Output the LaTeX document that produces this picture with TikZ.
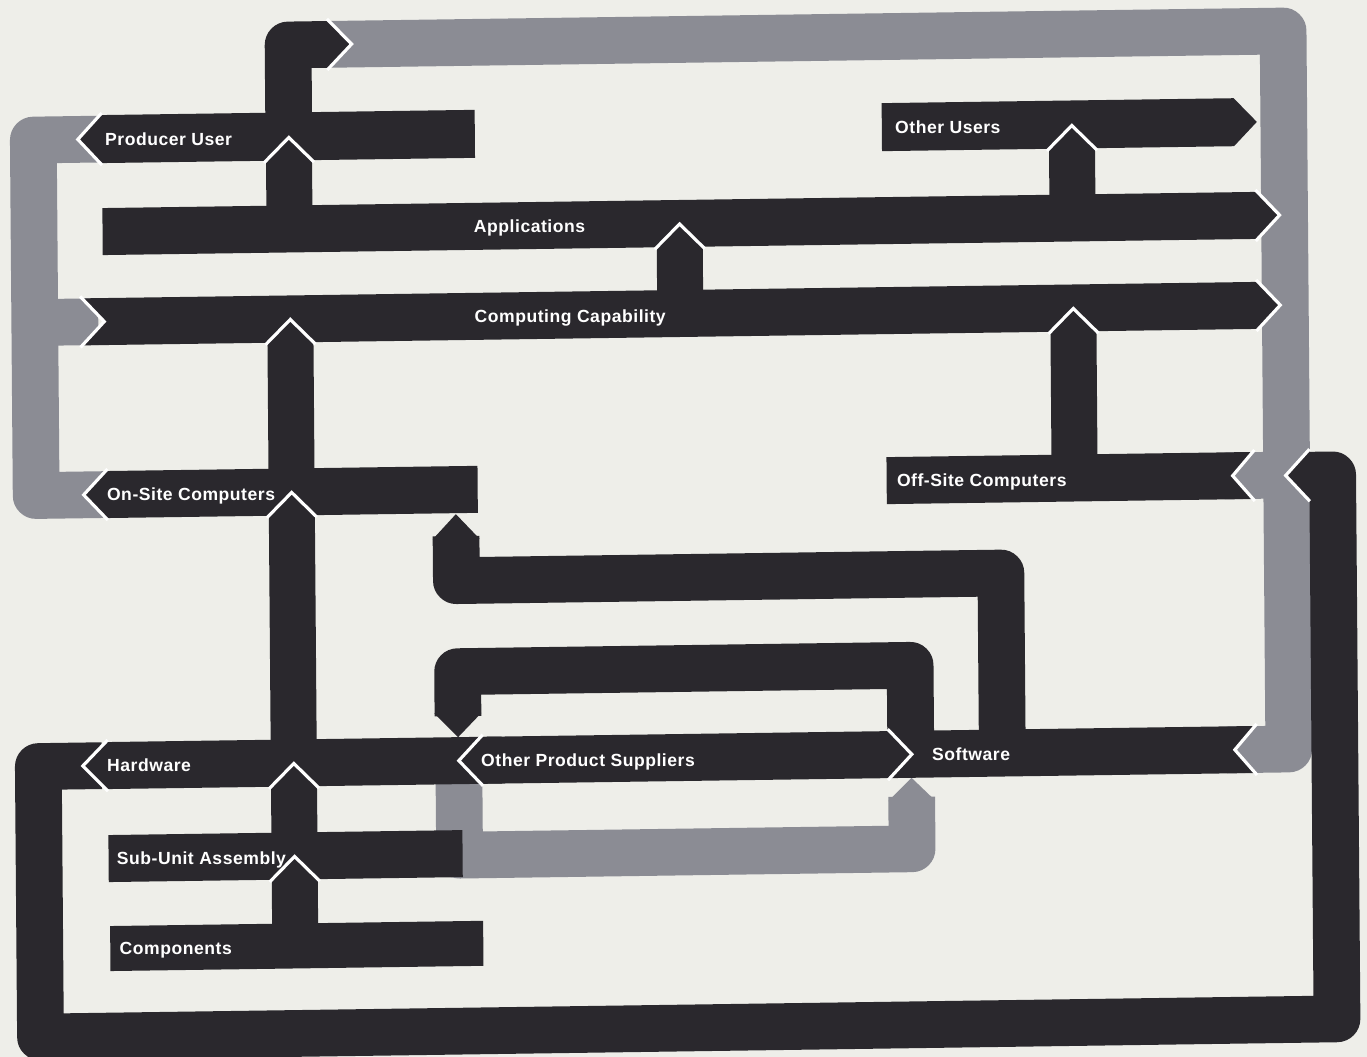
\documentclass[tikz,border=0pt]{standalone}
\usepackage{fontspec}
\newfontfamily\labfont{Liberation Sans}[LetterSpace=3]
\definecolor{ink}{HTML}{2A282D}
\definecolor{slate}{HTML}{8B8C94}
\definecolor{paper}{HTML}{EEEEE9}
\tikzset{
  band/.style={line width=26.6pt, line join=round, line cap=butt},
  gband/.style={band, draw=slate},
  kband/.style={band, draw=ink},
  edge/.style={draw=white, line width=1.8pt, line join=miter},
  lab/.style={anchor=base west, inner sep=0pt, text=white,
              font=\labfont\bfseries\fontsize{10}{12}\selectfont},
}
\begin{document}
\begin{tikzpicture}[x=0.02cm,y=-0.02cm]
\fill[paper] (0,0) rectangle (1367,1057);
\useasboundingbox (0,0) rectangle (1367,1057);
\begin{scope}[cm={1,0.014,-0.008,1,(-0.0845cm,-0.191cm)}]
% ---------- gray flows ----------
\draw[gband] (330,39.5) -- (1287,39.5) -- (1287,757.5) -- (1225,757.5);
\draw[gband] (1287,483.5) -- (1225,483.5);
\draw[gband] (110,131) -- (36.5,131) -- (36.5,486.5) -- (110,486.5);
\draw[gband] (36.5,313.5) -- (100,313.5);
\draw[gband] (457,770) -- (457,852) -- (909.5,852) -- (909.5,800);
\fill[slate] (886,804) -- (909.5,781) -- (933,804) -- cycle;
% ---------- black loops and connectors ----------
\draw[kband] (100,757.5) -- (36.5,757.5) -- (36.5,1028) -- (1333,1028) -- (1333,484) -- (1308,484);
\fill[ink] (1309,460.5) -- (1286,484) -- (1309,507.5) -- cycle;
\draw[kband] (456,533) -- (456,577.5) -- (1000.5,577.5) -- (1000.5,745);
\fill[ink] (432.5,536) -- (456,511) -- (479.5,536) -- cycle;
\draw[kband] (909,745) -- (909,668.5) -- (456.5,668.5) -- (456.5,713);
\fill[ink] (433,710) -- (456.5,734) -- (480,710) -- cycle;
\draw[kband] (292,110) -- (292,39.5) -- (333,39.5);
\fill[ink] (332,16) -- (355.5,39.5) -- (332,63) -- cycle;
% ---------- bars ----------
\fill[ink] (104,107) -- (478,107) -- (478,155) -- (104,155) -- (81,131) -- cycle;
\fill[ink] (885,106) -- (1237,106) -- (1260,130) -- (1237,154) -- (885,154) -- cycle;
\fill[ink] (105,200) -- (1259,200) -- (1282,223.5) -- (1259,247) -- (105,247) -- cycle;
\fill[ink] (83,290) -- (1259,290) -- (1282,313.5) -- (1259,337) -- (83,337) -- (106,313.5) -- cycle;
\fill[ink] (107,463) -- (478,463) -- (478,510) -- (107,510) -- (84,486.5) -- cycle;
\fill[ink] (887,460) -- (1254,460) -- (1233,483.5) -- (1254,507) -- (887,507) -- cycle;
\fill[ink] (105,734) -- (500,734) -- (500,781) -- (105,781) -- (81,757.5) -- cycle;
\fill[ink] (480,734) -- (887,734) -- (910,757.5) -- (887,781) -- (480,781) -- (457,757.5) -- cycle;
\fill[ink] (887,734) -- (1254,734) -- (1233,757.5) -- (1254,781) -- (887,781) -- (910,757.5) -- cycle;
\fill[ink] (106,827) rectangle (460,874);
\fill[ink] (107,918) rectangle (480,963);
% ---------- upward stems ----------
\fill[ink] (269,204) -- (269,155) -- (292,132) -- (315,155) -- (315,204) -- cycle;
\fill[ink] (659,294) -- (659,247) -- (682,224) -- (705,247) -- (705,294) -- cycle;
\fill[ink] (269,467) -- (269,337) -- (292,314) -- (315,337) -- (315,467) -- cycle;
\fill[ink] (269,738) -- (269,510) -- (292,487) -- (315,510) -- (315,738) -- cycle;
\fill[ink] (269,831) -- (269,781) -- (292,758) -- (315,781) -- (315,831) -- cycle;
\fill[ink] (269,922) -- (269,874) -- (292,851) -- (315,874) -- (315,922) -- cycle;
\fill[ink] (1052,204) -- (1052,154) -- (1075,131) -- (1098,154) -- (1098,204) -- cycle;
\fill[ink] (1052,464) -- (1052,337) -- (1075,314) -- (1098,337) -- (1098,464) -- cycle;
% ---------- white outlines ----------
\draw[edge] (331,14) -- (355.5,39.5) -- (331,65);
\draw[edge] (105,105) -- (81,131) -- (105,157);
\draw[edge] (108,461) -- (84,486.5) -- (108,512);
\draw[edge] (82,288) -- (106,313.5) -- (82,339);
\draw[edge] (1258,198) -- (1282,223.5) -- (1258,249);
\draw[edge] (1258,288) -- (1282,313.5) -- (1258,339);
\draw[edge] (1255,458) -- (1233,483.5) -- (1255,509);
\draw[edge] (1255,732) -- (1233,757.5) -- (1255,783);
\draw[edge] (1310,458) -- (1286,484) -- (1310,510);
\draw[edge] (106,732) -- (81,757.5) -- (106,783);
\draw[edge] (481,732) -- (457,757.5) -- (481,783);
\draw[edge] (886,732) -- (910,757.5) -- (886,783);
\draw[edge] (267,157) -- (292,132) -- (317,157);
\draw[edge] (657,249) -- (682,224) -- (707,249);
\draw[edge] (267,339) -- (292,314) -- (317,339);
\draw[edge] (267,512) -- (292,487) -- (317,512);
\draw[edge] (267,783) -- (292,758) -- (317,783);
\draw[edge] (267,876) -- (292,851) -- (317,876);
\draw[edge] (1050,156) -- (1075,131) -- (1100,156);
\draw[edge] (1050,339) -- (1075,314) -- (1100,339);
% ---------- labels ----------
\node[lab] (producer) at (108,137.3) {Producer  User};
\node[lab] (others)   at (898,136.3) {Other  Users};
\node[lab] (apps)     at (476,229.8) {Applications};
\node[lab] (comp)     at (476,319.8) {Computing  Capability};
\node[lab] (onsite)   at (107,492.8) {On-Site  Computers};
\node[lab] (offsite)  at (897,489.8) {Off-Site  Computers};
\node[lab] (hard)     at (105,763.8) {Hardware};
\node[lab] (ops)      at (479,763.8) {Other  Product  Suppliers};
\node[lab] (soft)     at (930,763.8) {Software};
\node[lab] (subunit)  at (114,856.8) {Sub-Unit  Assembly};
\node[lab] (parts)    at (116,946.8) {Components};
\end{scope}
\end{tikzpicture}
\end{document}
